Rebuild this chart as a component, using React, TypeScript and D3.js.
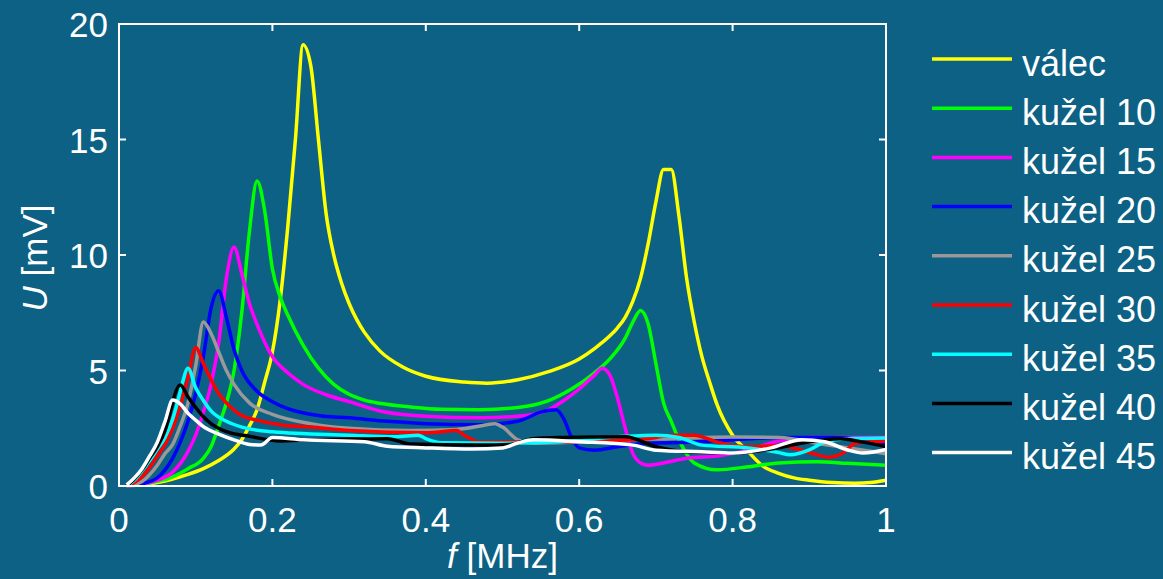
import * as d3 from 'd3'
import { useEffect, useRef } from 'react'

// [f (MHz), U (mV)]
const valec: [number, number][] = [
  [0.01, 0], [0.03, 0.05], [0.05, 0.15], [0.07, 0.3], [0.09, 0.5], [0.11, 0.75], [0.13, 1.1],
  [0.15, 1.6], [0.16, 2.0], [0.17, 2.6], [0.18, 3.3], [0.19, 4.5], [0.2, 5.8], [0.21, 8.0],
  [0.22, 11.2], [0.23, 15.0], [0.24, 19.1], [0.25, 18.2], [0.26, 15.0], [0.27, 11.8], [0.28, 10.0],
  [0.29, 8.8], [0.3, 7.9], [0.31, 7.2], [0.32, 6.65], [0.34, 5.85], [0.37, 5.15], [0.4, 4.75],
  [0.45, 4.5], [0.48, 4.45], [0.52, 4.6], [0.56, 4.95], [0.6, 5.5], [0.62, 5.95], [0.64, 6.5],
  [0.65, 6.85], [0.66, 7.3], [0.67, 8.0], [0.68, 9.0], [0.69, 10.5], [0.7, 12.3], [0.71, 13.7],
  [0.72, 13.7], [0.73, 11.7], [0.74, 9.0], [0.75, 7.1], [0.76, 5.6], [0.77, 4.5], [0.78, 3.5],
  [0.8, 2.2], [0.82, 1.5], [0.84, 0.85], [0.86, 0.55], [0.88, 0.35], [0.9, 0.25], [0.93, 0.15],
  [0.96, 0.12], [0.98, 0.15], [1.0, 0.25],
]

const kuzel10: [number, number][] = [
  [0.01, 0], [0.03, 0.07], [0.05, 0.2], [0.07, 0.4], [0.09, 0.75], [0.11, 1.2], [0.12, 1.7],
  [0.13, 2.6], [0.14, 3.6], [0.15, 5.0], [0.16, 7.5], [0.17, 11.0], [0.18, 13.2], [0.19, 11.9],
  [0.2, 9.4], [0.21, 8.2], [0.22, 7.4], [0.24, 6.1], [0.26, 5.1], [0.28, 4.4], [0.3, 3.97],
  [0.32, 3.72], [0.34, 3.58], [0.38, 3.42], [0.42, 3.32], [0.47, 3.3], [0.52, 3.4], [0.56, 3.7],
  [0.59, 4.2], [0.62, 4.9], [0.64, 5.5], [0.66, 6.4], [0.67, 7.1], [0.68, 7.6], [0.69, 7.0],
  [0.7, 5.3], [0.71, 3.6], [0.72, 2.8], [0.73, 2.0], [0.75, 1.0], [0.78, 0.7], [0.82, 0.83],
  [0.86, 1.0], [0.91, 1.05], [0.95, 0.98], [1.0, 0.9],
]

const kuzel15: [number, number][] = [
  [0.01, 0], [0.03, 0.08], [0.05, 0.25], [0.07, 0.6], [0.09, 1.5], [0.1, 2.2], [0.11, 3.2],
  [0.12, 4.4], [0.13, 6.2], [0.14, 9.0], [0.15, 10.35], [0.16, 9.2], [0.17, 7.9], [0.18, 7.0],
  [0.2, 5.6], [0.22, 4.9], [0.24, 4.4], [0.27, 3.95], [0.3, 3.65], [0.34, 3.25], [0.4, 3.02],
  [0.47, 2.95], [0.53, 3.05], [0.56, 3.3], [0.58, 3.7], [0.6, 4.2], [0.62, 4.8], [0.63, 5.1],
  [0.64, 4.8], [0.65, 3.8], [0.66, 2.5], [0.67, 1.4], [0.68, 1.0], [0.69, 0.9], [0.71, 1.0],
  [0.74, 1.2], [0.78, 1.3], [0.82, 1.55], [0.86, 1.95], [0.9, 2.1], [0.95, 2.1], [1.0, 2.1],
]

const kuzel20: [number, number][] = [
  [0.01, 0], [0.03, 0.1], [0.05, 0.35], [0.06, 0.7], [0.07, 1.2], [0.08, 1.9], [0.09, 2.8],
  [0.1, 4.0], [0.11, 5.6], [0.12, 7.7], [0.13, 8.45], [0.14, 7.3], [0.15, 5.9], [0.16, 5.0],
  [0.18, 4.1], [0.2, 3.65], [0.22, 3.35], [0.26, 3.05], [0.3, 2.95], [0.35, 2.8], [0.4, 2.7],
  [0.47, 2.65], [0.52, 2.8], [0.55, 3.2], [0.57, 3.3], [0.58, 2.9], [0.59, 2.1], [0.6, 1.65],
  [0.62, 1.55], [0.65, 1.7], [0.69, 1.85], [0.75, 1.9], [0.8, 2.0], [0.87, 2.1], [0.93, 2.1],
  [1.0, 1.85],
]

const kuzel25: [number, number][] = [
  [0.01, 0], [0.03, 0.2], [0.05, 0.9], [0.06, 1.4], [0.07, 1.8], [0.08, 2.6], [0.09, 3.6],
  [0.1, 5.2], [0.11, 7.1], [0.12, 6.6], [0.13, 5.8], [0.14, 5.0], [0.15, 4.4], [0.17, 3.6],
  [0.2, 3.1], [0.25, 2.7], [0.3, 2.5], [0.38, 2.4], [0.44, 2.45], [0.48, 2.65], [0.49, 2.7],
  [0.5, 2.55], [0.52, 2.0], [0.54, 1.85], [0.6, 1.9], [0.66, 2.0], [0.72, 2.05], [0.8, 2.12],
  [0.86, 2.1], [0.92, 1.8], [0.96, 1.6], [1.0, 1.4],
]

const kuzel30: [number, number][] = [
  [0.01, 0], [0.02, 0.15], [0.03, 0.4], [0.04, 0.8], [0.05, 1.3], [0.06, 1.8], [0.07, 2.5],
  [0.08, 3.5], [0.09, 4.7], [0.1, 6.0], [0.11, 5.3], [0.12, 4.6], [0.13, 4.0], [0.14, 3.6],
  [0.16, 3.05], [0.18, 2.85], [0.21, 2.65], [0.25, 2.55], [0.3, 2.4], [0.4, 2.3], [0.44, 2.4],
  [0.45, 2.2], [0.47, 1.9], [0.55, 1.9], [0.62, 1.95], [0.69, 2.05], [0.72, 2.2], [0.75, 2.2],
  [0.78, 1.9], [0.82, 1.7], [0.86, 1.75], [0.9, 1.45], [0.925, 1.25], [0.945, 1.45],
  [0.96, 1.85], [1.0, 1.95],
]

const kuzel35: [number, number][] = [
  [0.01, 0], [0.02, 0.25], [0.03, 0.65], [0.04, 1.1], [0.05, 1.6], [0.06, 2.1], [0.07, 2.9],
  [0.08, 4.1], [0.083, 4.5], [0.09, 5.1], [0.1, 4.25], [0.11, 3.7], [0.12, 3.25], [0.14, 2.8],
  [0.16, 2.55], [0.2, 2.35], [0.3, 2.2], [0.36, 2.13], [0.39, 2.2], [0.4, 2.05], [0.42, 1.87],
  [0.5, 1.85], [0.57, 1.9], [0.62, 2.05], [0.66, 2.15], [0.7, 2.2], [0.73, 2.1], [0.76, 1.77],
  [0.82, 1.65], [0.86, 1.45], [0.875, 1.35], [0.9, 1.56], [0.92, 1.9], [0.95, 2.05], [1.0, 2.08],
]

const kuzel40: [number, number][] = [
  [0.01, 0], [0.02, 0.3], [0.03, 0.7], [0.04, 1.2], [0.05, 1.7], [0.06, 2.4], [0.07, 3.6],
  [0.072, 3.87], [0.08, 4.37], [0.09, 3.85], [0.1, 3.4], [0.11, 3.0], [0.12, 2.7], [0.14, 2.35],
  [0.17, 2.15], [0.21, 1.95], [0.25, 2.0], [0.3, 2.03], [0.35, 2.05], [0.38, 1.82], [0.47, 1.77],
  [0.51, 1.8], [0.54, 2.05], [0.58, 2.1], [0.66, 2.13], [0.7, 1.7], [0.74, 1.48], [0.8, 1.43],
  [0.86, 1.65], [0.9, 1.92], [0.94, 2.05], [0.97, 1.9], [1.0, 1.7],
]

const kuzel45: [number, number][] = [
  [0.01, 0.05], [0.02, 0.35], [0.03, 0.75], [0.04, 1.3], [0.05, 1.9], [0.06, 2.8], [0.07, 3.72],
  [0.08, 3.55], [0.09, 3.15], [0.1, 2.85], [0.11, 2.57], [0.13, 2.25], [0.15, 2.0], [0.17, 1.8],
  [0.185, 1.77], [0.2, 2.1], [0.24, 2.0], [0.32, 1.92], [0.35, 1.72], [0.4, 1.65], [0.46, 1.6],
  [0.5, 1.65], [0.52, 1.86], [0.54, 2.0], [0.6, 1.92], [0.67, 1.77], [0.7, 1.55], [0.76, 1.48],
  [0.8, 1.43], [0.85, 1.65], [0.89, 2.0], [0.92, 1.92], [0.95, 1.56], [0.97, 1.43], [1.0, 1.58],
]

const names = ['válec', 'kužel 10', 'kužel 15', 'kužel 20', 'kužel 25', 'kužel 30', 'kužel 35', 'kužel 40', 'kužel 45']
const colors = ['#ffff00', '#00ff00', '#ff00ff', '#0000ff', '#999999', '#ff0000', '#00ffff', '#000000', '#ffffff']
const allSeries = [valec, kuzel10, kuzel15, kuzel20, kuzel25, kuzel30, kuzel35, kuzel40, kuzel45]

const xTicks = [0, 0.2, 0.4, 0.6, 0.8, 1]
const yTicks = [0, 5, 10, 15, 20]

const W = 1163
const H = 579
const bg = '#0c6184'
const font = '"Liberation Sans", Arial, Helvetica, sans-serif'

const App = () => {
  const ref = useRef<SVGSVGElement>(null)

  useEffect(() => {
    const margin = { top: 24, right: 277, bottom: 93, left: 119 }
    const width = W - margin.left - margin.right
    const height = H - margin.top - margin.bottom

    const svg = d3.select(ref.current)
    svg.selectAll('*').remove()
    svg.append('rect').attr('width', W).attr('height', H).attr('fill', bg)

    const x = d3.scaleLinear().domain([0, 1]).range([margin.left, margin.left + width])
    const y = d3.scaleLinear().domain([0, 20]).range([margin.top + height, margin.top])

    // data lines
    const line = d3
      .line<[number, number]>()
      .x((d) => x(d[0]))
      .y((d) => y(d[1]))
      .curve(d3.curveMonotoneX)

    allSeries.forEach((s, i) => {
      svg
        .append('path')
        .datum(s)
        .attr('d', line)
        .attr('fill', 'none')
        .attr('stroke', colors[i])
        .attr('stroke-width', 3.5)
        .attr('stroke-linejoin', 'miter')
    })

    // box + ticks
    const axes = svg.append('g').attr('stroke', '#fff').attr('stroke-width', 2)
    axes
      .append('rect')
      .attr('x', x(0))
      .attr('y', y(20))
      .attr('width', x(1) - x(0))
      .attr('height', y(0) - y(20))
      .attr('fill', 'none')
    const tl = 7
    xTicks.forEach((t) => {
      axes.append('line').attr('x1', x(t)).attr('x2', x(t)).attr('y1', y(0)).attr('y2', y(0) - tl)
      axes.append('line').attr('x1', x(t)).attr('x2', x(t)).attr('y1', y(20)).attr('y2', y(20) + tl)
    })
    yTicks.forEach((t) => {
      axes.append('line').attr('x1', x(0)).attr('x2', x(0) + tl).attr('y1', y(t)).attr('y2', y(t))
      axes.append('line').attr('x1', x(1)).attr('x2', x(1) - tl).attr('y1', y(t)).attr('y2', y(t))
    })

    const labels = svg.append('g').attr('fill', '#fff').attr('font-family', font).attr('font-size', 35)
    xTicks.forEach((t) => {
      labels
        .append('text')
        .attr('x', x(t))
        .attr('y', y(0) + 46)
        .attr('text-anchor', 'middle')
        .text(d3.format('~g')(t))
    })
    yTicks.forEach((t) => {
      labels
        .append('text')
        .attr('x', x(0) - 11)
        .attr('y', y(t) + 13)
        .attr('text-anchor', 'end')
        .text(t)
    })

    // axis titles
    const xt = labels
      .append('text')
      .attr('x', x(0.5))
      .attr('y', 568)
      .attr('text-anchor', 'middle')
    xt.append('tspan').attr('font-style', 'italic').text('f')
    xt.append('tspan').text(' [MHz]')

    const yt = labels
      .append('text')
      .attr('transform', `translate(47,${y(10) + 3}) rotate(-90)`)
      .attr('text-anchor', 'middle')
    yt.append('tspan').attr('font-style', 'italic').text('U')
    yt.append('tspan').text(' [mV]')

    // legend
    const lg = svg.append('g').attr('transform', 'translate(932,59)')
    names.forEach((n, i) => {
      const ly = i * 49.2
      lg.append('line')
        .attr('x1', 0)
        .attr('x2', 80)
        .attr('y1', ly)
        .attr('y2', ly)
        .attr('stroke', colors[i])
        .attr('stroke-width', 3.5)
      lg.append('text')
        .attr('x', 90)
        .attr('y', ly + 16.5)
        .attr('fill', '#fff')
        .attr('font-family', font)
        .attr('font-size', 36)
        .text(n)
    })
  }, [])

  return (
    <svg
      ref={ref}
      width={W}
      height={H}
      style={{ position: 'absolute', left: 0, top: 0, display: 'block' }}
    ></svg>
  )
}

export default App
